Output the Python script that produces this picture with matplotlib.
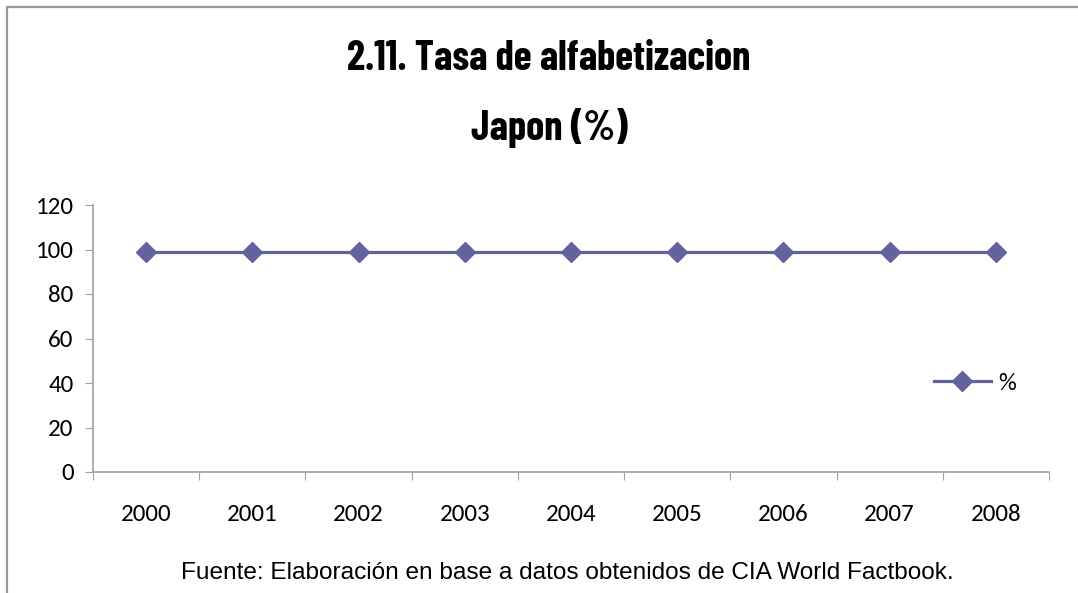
import matplotlib
matplotlib.use("Agg")
import matplotlib.pyplot as plt
from matplotlib.patches import Rectangle

years = ["2000", "2001", "2002", "2003", "2004", "2005", "2006", "2007", "2008"]
values = [99, 99, 99, 99, 99, 99, 99, 99, 99]
series_name = "%"
title_lines = ["2.11. Tasa de alfabetizacion", "Japon (%)"]
source = "Fuente: Elaboración en base a datos obtenidos de CIA World Factbook."
yticks = [0, 20, 40, 60, 80, 100, 120]

W, H = 1078, 593
fig = plt.figure(figsize=(W / 100, H / 100), dpi=100)
fig.patch.set_facecolor("white")

body_font = ["Carlito", "Lato", "DejaVu Sans"]
title_font = ["Barlow Condensed", "DejaVu Sans"]

# outer border
fig.add_artist(Rectangle((7 / W, -0.05), 1.2, (H - 7) / H + 0.05, transform=fig.transFigure,
                         fill=False, edgecolor="#9a9a9a", linewidth=1.6))

ax = fig.add_axes([93 / W, (H - 472) / H, (1049 - 93) / W, (472 - 205) / H])
x = list(range(len(years)))
color = "#62629c"
ax.plot(x, values, color=color, linewidth=2.3, marker="D", markersize=10, label=series_name)

ax.set_xlim(-0.5, len(years) - 0.5)
ax.set_ylim(0, 120)
ax.set_yticks(yticks)
ax.set_yticklabels([str(v) for v in yticks], fontsize=18, family=body_font)
ax.set_xticks([i + 0.5 for i in range(-1, len(years))], minor=False)
ax.set_xticklabels([])
ax.set_xticks(x, minor=True)
ax.set_xticklabels(years, minor=True, fontsize=18, family=body_font)
ax.tick_params(axis="x", which="major", length=6, color="#a0a0a0", direction="out")
ax.tick_params(axis="x", which="minor", length=0, pad=23)
ax.tick_params(axis="y", length=6, color="#a0a0a0", direction="out", pad=8)
for s in ["top", "right"]:
    ax.spines[s].set_visible(False)
for s in ["left", "bottom"]:
    ax.spines[s].set_color("#a0a0a0")
    ax.spines[s].set_linewidth(1.2)

leg = ax.legend(loc="center left", bbox_to_anchor=(911 / W, (H - 383) / H),
                bbox_transform=fig.transFigure, frameon=False,
                handlelength=2.3, handletextpad=0.3, prop={"family": body_font, "size": 18})

fig.text(549 / W, 1 - 59 / H, title_lines[0], ha="center", va="center", fontsize=29.5,
         fontweight="bold", family=title_font)
fig.text(549 / W, 1 - 128 / H, title_lines[1], ha="center", va="center", fontsize=29.5,
         fontweight="bold", family=title_font)
fig.text(567 / W, 1 - 573 / H, source, ha="center", va="center", fontsize=17.6,
         family="Liberation Sans")

fig.savefig("out.png", dpi=100, facecolor="white")
